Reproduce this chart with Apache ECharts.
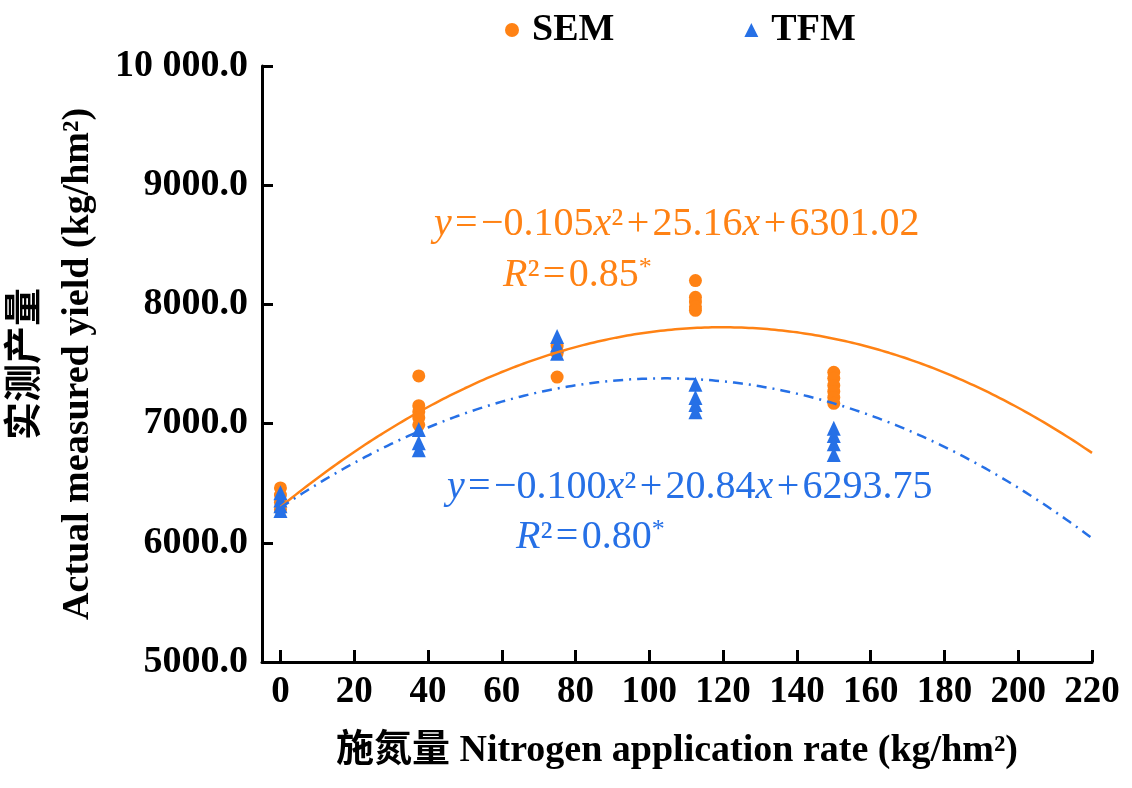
<!DOCTYPE html>
<html>
<head>
<meta charset="utf-8">
<script src="https://cdn.jsdelivr.net/npm/echarts@6/dist/echarts.min.js"></script>
<style>
html,body{margin:0;padding:0;background:#fff;}
#chart{width:1132px;height:788px;}
</style>
</head>
<body>
<div id="chart"></div>
<script>
// ---- data ----
const nRates = [0, 37.5, 75, 112.5, 150];
const semYield = [
  [6460, 6400, 6340, 6280],
  [7400, 7150, 7100, 7050, 6990],
  [7650, 7590, 7390],
  [8200, 8060, 8020, 7980, 7950],
  [7430, 7380, 7320, 7270, 7220, 7170]
];
const tfmYield = [
  [6420, 6360, 6310, 6270],
  [6950, 6840, 6780],
  [7730, 7660, 7590],
  [7330, 7220, 7160, 7100],
  [6960, 6900, 6830, 6740]
];
// fitted quadratic coefficients printed on the chart [a, b, c]: y = a x^2 + b x + c
const semFit = [-0.105, 25.16, 6301.02];
const tfmFit = [-0.100, 20.84, 6293.75];
const xTicks = [0, 20, 40, 60, 80, 100, 120, 140, 160, 180, 200, 220];
const yTicks = [5000, 6000, 7000, 8000, 9000, 10000];
const seriesNames = ['SEM', 'TFM'];

const orange = '#FF8214';
const blue = '#2670E6';
const serif = '"Liberation Serif", "Times New Roman", "Noto Sans CJK SC", serif';
const hs = '\u200A';

function pairs(rates, groups) {
  const out = [];
  groups.forEach((g, i) => g.forEach(v => out.push([rates[i], v])));
  return out;
}
function curve(coef) {
  const out = [];
  for (let x = 0; x <= 220; x += 1) out.push([x, coef[0] * x * x + coef[1] * x + coef[2]]);
  return out;
}
function eqText(coef) {
  return '{i|y}' + hs + '=' + hs + '−' + Math.abs(coef[0]).toFixed(3) + '{i|x}²' + hs + '+' + hs +
    coef[1].toFixed(2) + '{i|x}' + hs + '+' + hs + coef[2].toFixed(2);
}
function richFor(color) {
  return {
    i: { fontStyle: 'italic', fontFamily: serif, fontSize: 40, fill: color },
    s: { fontFamily: serif, fontSize: 26, fill: color, verticalAlign: 'top' }
  };
}

const chart = echarts.init(document.getElementById('chart'));
chart.setOption({
  animation: false,
  backgroundColor: '#fff',
  grid: { left: 262, right: 40, top: 66, bottom: 126, containLabel: false, outerBoundsMode: 'none' },
  legend: {
    top: 6, left: 500,
    data: [{ name: 'SEM', icon: 'circle' }, { name: 'TFM', icon: 'triangle' }],
    itemWidth: 14, itemHeight: 14, itemGap: 130,
    textStyle: { fontFamily: serif, fontWeight: 'bold', fontSize: 38, color: '#000', padding: [0, 0, 0, 8] }
  },
  xAxis: {
    type: 'value', min: -5, max: 220,
    name: '施氮量 Nitrogen application rate (kg/hm²)',
    nameLocation: 'middle', nameGap: 70,
    nameTextStyle: { fontFamily: serif, fontWeight: 'bold', fontSize: 38, color: '#000' },
    axisLine: { onZero: false, lineStyle: { color: '#000', width: 3 } },
    axisTick: { inside: true, length: 12, lineStyle: { color: '#000', width: 3 }, customValues: xTicks },
    axisLabel: { margin: 12, fontFamily: serif, fontWeight: 'bold', fontSize: 37, color: '#000', customValues: xTicks },
    splitLine: { show: false }
  },
  yAxis: {
    type: 'value', min: 5000, max: 10000, interval: 1000,
    name: '实测产量\nActual measured yield (kg/hm²)',
    nameLocation: 'middle', nameGap: 155,
    nameTextStyle: { fontFamily: serif, fontWeight: 'bold', fontSize: 38, color: '#000', lineHeight: 52 },
    axisLine: { show: true, onZero: false, lineStyle: { color: '#000', width: 3 } },
    axisTick: { show: true, inside: true, length: 11, lineStyle: { color: '#000', width: 3 } },
    axisLabel: {
      margin: 14, fontFamily: serif, fontWeight: 'bold', fontSize: 38, color: '#000',
      formatter: v => v >= 10000 ? '10 000.0' : v.toFixed(1)
    },
    splitLine: { show: false }
  },
  series: [
    {
      name: seriesNames[0], type: 'scatter', symbol: 'circle', symbolSize: 13, z: 2,
      itemStyle: { color: orange, opacity: 1 }, data: pairs(nRates, semYield)
    },
    {
      name: seriesNames[1], type: 'scatter', symbol: 'triangle', symbolSize: [14, 15], z: 3,
      itemStyle: { color: blue, opacity: 1 }, data: pairs(nRates, tfmYield)
    },
    {
      name: 'SEM fit', type: 'line', showSymbol: false, z: 4, silent: true,
      lineStyle: { color: orange, width: 2.5 }, data: curve(semFit)
    },
    {
      name: 'TFM fit', type: 'line', showSymbol: false, z: 5, silent: true,
      lineStyle: { color: blue, width: 2.5, type: [10, 6, 2, 6] }, data: curve(tfmFit)
    }
  ],
  graphic: [
    {
      type: 'text', x: 434, y: 224, z: 10,
      style: { text: eqText(semFit), fill: orange, font: '40px ' + serif, verticalAlign: 'middle', rich: richFor(orange) }
    },
    {
      type: 'text', x: 503, y: 275, z: 10,
      style: { text: '{i|R}²' + hs + '=' + hs + '0.85{s|*}', fill: orange, font: '40px ' + serif, verticalAlign: 'middle', rich: richFor(orange) }
    },
    {
      type: 'text', x: 447, y: 487, z: 10,
      style: { text: eqText(tfmFit), fill: blue, font: '40px ' + serif, verticalAlign: 'middle', rich: richFor(blue) }
    },
    {
      type: 'text', x: 516, y: 537, z: 10,
      style: { text: '{i|R}²' + hs + '=' + hs + '0.80{s|*}', fill: blue, font: '40px ' + serif, verticalAlign: 'middle', rich: richFor(blue) }
    }
  ]
});
</script>
</body>
</html>
